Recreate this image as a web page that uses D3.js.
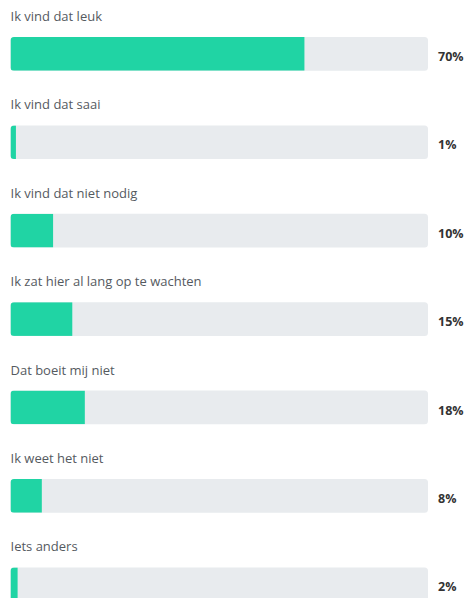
<!DOCTYPE html>
<html>
<head>
<meta charset="utf-8">
<script src="https://cdn.jsdelivr.net/npm/d3@7"></script>
<style>
  html, body { margin: 0; padding: 0; background: #ffffff; }
  svg { display: block; }
</style>
</head>
<body>
<div id="chart"></div>
<script>
const categories = [
  "Ik vind dat leuk",
  "Ik vind dat saai",
  "Ik vind dat niet nodig",
  "Ik zat hier al lang op te wachten",
  "Dat boeit mij niet",
  "Ik weet het niet",
  "Iets anders"
];
const values = [70.4, 1.3, 10.2, 14.8, 17.8, 7.5, 1.7];
const valueLabels = ["70%", "1%", "10%", "15%", "18%", "8%", "2%"];

const W = 468, H = 598;
const left = 10.5, right = 428;
const rowStep = 88.4, firstBarTop = 37, barH = 33.7;

const svg = d3.select("#chart").append("svg").attr("width", W).attr("height", H);

const x = d3.scaleLinear().domain([0, 100]).range([left, right]);
const y = d3.scaleLinear().domain([0, 1]).range([firstBarTop, firstBarTop + rowStep]);

const defs = svg.append("defs");
defs.selectAll("clipPath").data(categories).join("clipPath")
  .attr("id", (d, i) => "clip" + i)
  .append("rect")
  .attr("x", x(0))
  .attr("y", (d, i) => y(i))
  .attr("width", x(100) - x(0))
  .attr("height", barH)
  .attr("rx", 3.5);

const rows = svg.selectAll("g.row").data(categories).join("g").attr("class", "row");

rows.append("text")
  .attr("x", left)
  .attr("y", (d, i) => y(i) - 16)
  .attr("font-family", "'Open Sans', 'Noto Sans', sans-serif")
  .attr("font-size", 13)
  .attr("fill", "#555a5f")
  .text(d => d);

rows.append("rect")
  .attr("x", x(0))
  .attr("y", (d, i) => y(i))
  .attr("width", x(100) - x(0))
  .attr("height", barH)
  .attr("rx", 3.5)
  .attr("fill", "#e8ebee");

rows.append("rect")
  .attr("x", x(0))
  .attr("y", (d, i) => y(i))
  .attr("width", (d, i) => x(values[i]) - x(0))
  .attr("height", barH)
  .attr("clip-path", (d, i) => "url(#clip" + i + ")")
  .attr("fill", "#20d4a4");

rows.append("text")
  .attr("x", 438)
  .attr("y", (d, i) => y(i) + 24)
  .attr("font-family", "'Open Sans', 'Noto Sans', sans-serif")
  .attr("font-size", 12.5)
  .attr("font-weight", "bold")
  .attr("fill", "#333333")
  .text((d, i) => valueLabels[i]);
</script>
</body>
</html>
